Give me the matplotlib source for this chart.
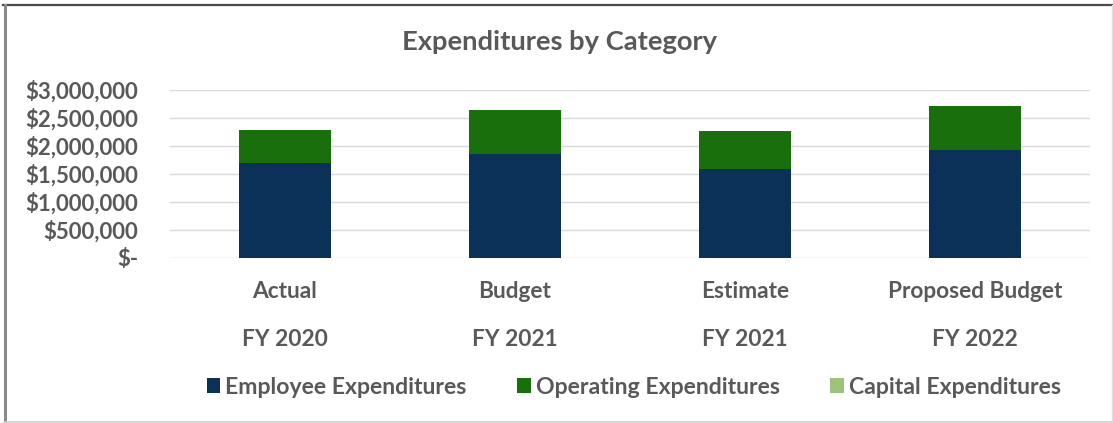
import matplotlib
matplotlib.use("Agg")
import matplotlib.pyplot as plt
from matplotlib.ticker import FuncFormatter, MultipleLocator
from matplotlib.lines import Line2D
from matplotlib.patches import Patch

# Data
periods = ["Actual", "Budget", "Estimate", "Proposed Budget"]
fiscal_years = ["FY 2020", "FY 2021", "FY 2021", "FY 2022"]
employee = [1686000, 1864000, 1584000, 1923000]
operating = [607000, 786000, 684000, 798000]
capital = [0, 0, 0, 0]

series_names = ["Employee Expenditures", "Operating Expenditures", "Capital Expenditures"]
colors = ["#0C3158", "#186F0C", "#9DC47A"]
text_color = "#595959"
grid_color = "#D9D9D9"
font = "Lato"

W, H = 1113, 423
fig = plt.figure(figsize=(W / 100, H / 100), dpi=100)
fig.patch.set_facecolor("white")

# axes placement in pixels
left_px, right_px, top_px, zero_px = 170, 1090, 90, 257.7
ax = fig.add_axes([left_px / W, (H - zero_px) / H,
                   (right_px - left_px) / W, (zero_px - top_px) / H])

x = list(range(len(periods)))
bar_w = 0.4
ax.bar(x, employee, width=bar_w, color=colors[0], zorder=3)
ax.bar(x, operating, width=bar_w, bottom=employee, color=colors[1], zorder=3)
bottoms = [e + o for e, o in zip(employee, operating)]
ax.bar(x, capital, width=bar_w, bottom=bottoms, color=colors[2], zorder=3)

ax.set_xlim(-0.5, len(periods) - 0.5)
ax.set_ylim(0, 3000000)
ax.yaxis.set_major_locator(MultipleLocator(500000))
ax.yaxis.set_major_formatter(FuncFormatter(lambda v, p: "$-" if v == 0 else f"${v:,.0f}"))
ax.grid(axis="y", color=grid_color, linewidth=1.0, zorder=0)
for s in ax.spines.values():
    s.set_visible(False)
ax.tick_params(axis="y", length=0, pad=23, labelsize=16, labelcolor=text_color)
ax.tick_params(axis="x", length=0)
ax.set_xticks(x)
ax.set_xticklabels([])
for lbl in ax.get_yticklabels():
    lbl.set_fontfamily(font)
    lbl.set_fontweight("bold")

# two-row category labels
axis_h = zero_px - top_px
tr = ax.get_xaxis_transform()
for xi, per, fy in zip(x, periods, fiscal_years):
    ax.text(xi, (zero_px - 298) / axis_h, per, transform=tr, ha="center", va="baseline",
            fontsize=16.3, fontweight="bold", color=text_color, family=font)
    ax.text(xi, (zero_px - 346.5) / axis_h, fy, transform=tr, ha="center", va="baseline",
            fontsize=16.3, fontweight="bold", color=text_color, family=font)

# legend
handles = [Patch(facecolor=c, edgecolor="none") for c in colors]
leg = ax.legend(handles, series_names, loc="center", bbox_to_anchor=(0.504, (zero_px - 387) / axis_h),
                ncol=3, frameon=False, handlelength=0.6, handleheight=0.6,
                handletextpad=0.2, columnspacing=2.2,
                prop={"family": font, "weight": "bold", "size": 16.6})
for t in leg.get_texts():
    t.set_color(text_color)

# title
fig.text(559.5 / W, (H - 50) / H, "Expenditures by Category", ha="center", va="baseline",
         fontsize=19.7, fontweight="bold", color=text_color, family=font)

# chart frame
fig.add_artist(Line2D([3 / W, 1 / 1], [(H - 5) / H] * 2, color="#4A4A4A", linewidth=1.6,
                      transform=fig.transFigure))
fig.add_artist(Line2D([4.5 / W] * 2, [(H - 5) / H, (H - 421) / H], color="#8A8A8A", linewidth=2.2,
                      transform=fig.transFigure))
fig.add_artist(Line2D([4 / W, 1], [(H - 421.5) / H] * 2, color="#D0D0D0", linewidth=1.2,
                      transform=fig.transFigure))
fig.add_artist(Line2D([(W - 1) / W] * 2, [(H - 5) / H, (H - 421) / H], color="#E0E0E0", linewidth=1.0,
                      transform=fig.transFigure))

fig.savefig("out.png", dpi=100, facecolor="white")
